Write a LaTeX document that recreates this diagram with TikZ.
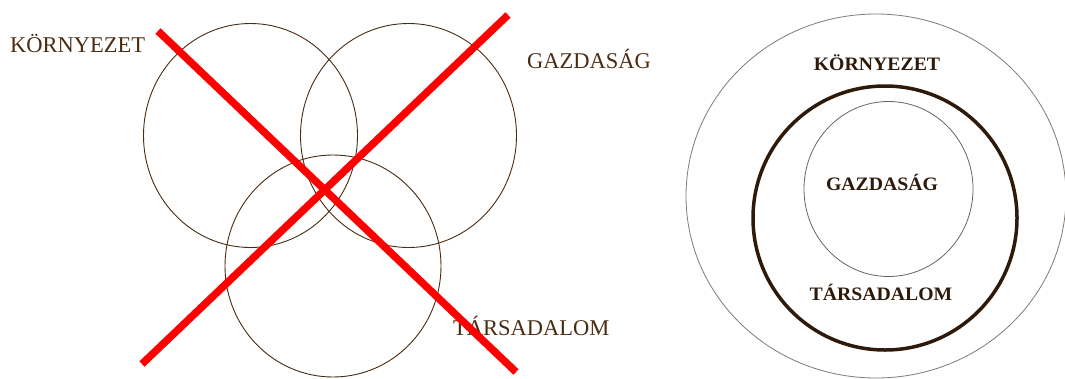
\documentclass[tikz,border=0pt]{standalone}
\usepackage{fontspec}
\setmainfont{Liberation Serif}
\newfontfamily\szeles[FakeStretch=1.04]{Liberation Serif}
\usepackage{xcolor}
\definecolor{barna}{HTML}{4A2C12}
\definecolor{sotetbarna}{HTML}{2E1A0A}
\definecolor{szurke}{HTML}{7F7A74}
\definecolor{szurkebarna}{HTML}{6B625A}
\definecolor{piros}{HTML}{FF0000}
\tikzset{
  kor/.style={draw=barna,line width=0.9pt},
  athuzas/.style={draw=piros,line width=7.5pt},
  felirat/.style={text=barna,inner sep=0pt,font=\fontsize{22.5}{27}\selectfont},
  belso/.style={text=sotetbarna,inner sep=0pt,font=\szeles\bfseries\fontsize{19}{22}\selectfont}
}

\begin{document}
\begin{tikzpicture}[x=1pt,y=-1pt]
\useasboundingbox (0,0) rectangle (1065,378);
\draw[kor] (250.5,135.5) ellipse (107pt and 112pt);
\draw[kor] (408.5,135.5) ellipse (108pt and 112pt);
\draw[kor] (333,266) ellipse (108pt and 111pt);
\node[felirat,anchor=base west] (kornyezet) at (10,52) {KÖRNYEZET};
\node[felirat,anchor=base west] (gazdasag) at (527,68) {GAZDASÁG};
\node[felirat,anchor=base west] (tarsadalom) at (453,335) {TÁRSADALOM};
\coordinate (a1) at (158,31);
\coordinate (a2) at (516,372);
\coordinate (b1) at (508,15);
\coordinate (b2) at (142,364);
\draw[athuzas] (a1) -- (a2);
\draw[athuzas] (b1) -- (b2);

\draw[draw=szurke,line width=0.8pt] (876,196) ellipse (190pt and 182pt);
\draw[draw=sotetbarna,line width=3.5pt] (885,218) circle (132pt);
\draw[draw=szurkebarna,line width=0.8pt] (888.5,189) ellipse (84.5pt and 87.5pt);
\node[belso,anchor=base] (kornyezet2) at (877,70) {KÖRNYEZET};
\node[belso,anchor=base] (gazdasag2) at (882,190) {GAZDASÁG};
\node[belso,anchor=base] (tarsadalom2) at (881,300) {TÁRSADALOM};
\end{tikzpicture}
\end{document}
